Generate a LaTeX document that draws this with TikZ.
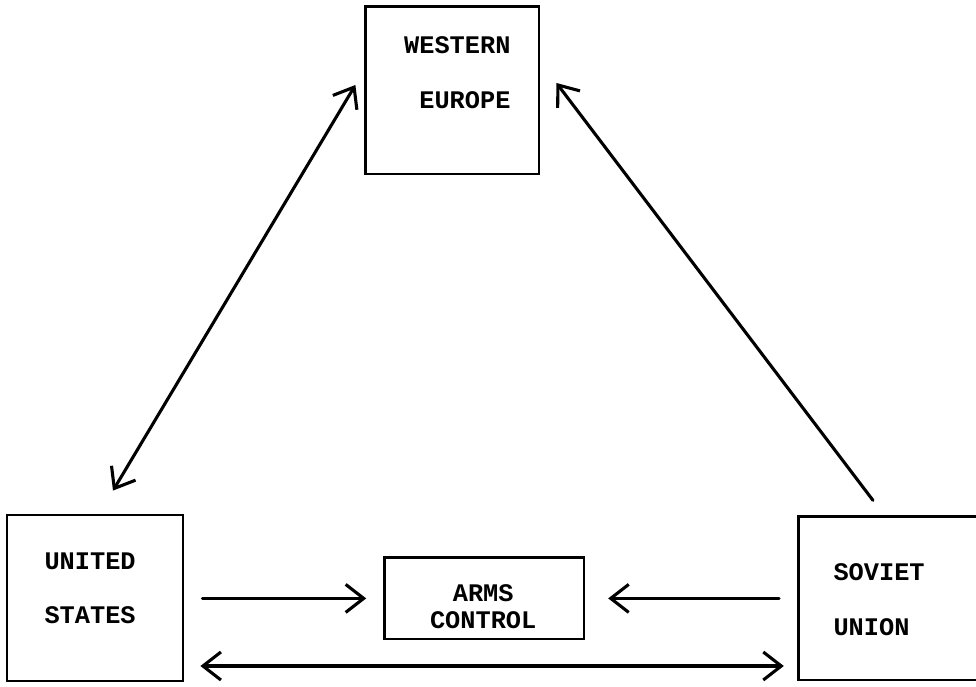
\documentclass[tikz,border=0pt]{standalone}
\usepackage{fontspec}
\setmonofont{Liberation Mono}
\usetikzlibrary{arrows.meta,positioning}
\tikzset{
  box/.style={draw, line width=2pt, inner sep=0pt},
  lbl/.style={font=\ttfamily\bfseries\fontsize{18}{20}\selectfont, inner sep=0pt},
  >={Straight Barb[length=4.5mm,width=7mm]}
}
\begin{document}
\begin{tikzpicture}[line width=2.2pt, line cap=round]
			% Draw the frame
			\useasboundingbox (0,0) rectangle (24.4,17.15);
			% Draw the boxes
			\node[box, minimum width=4.33cm, minimum height=4.18cm] (we) at (11.31,14.89) {};
			\node[box, minimum width=4.4cm, minimum height=4.15cm] (us) at (2.375,2.2) {};
			\node[box, minimum width=4.98cm, minimum height=2.03cm] (arms) at (12.11,2.19) {};
			\node[box, minimum width=5.5cm, minimum height=4.08cm, anchor=west] (su) at (19.925,2.19) {};
			% Write the names
			\node[lbl, align=right, anchor=east] (wetxt) at (12.8,15.33) {WESTERN\\[19pt]EUROPE};
			\node[lbl, align=left, anchor=west] (ustxt) at (1.075,2.44) {UNITED\\[18pt]STATES};
			\node[lbl, align=center] (armstxt) at (12.08,1.99) {ARMS\\[-1pt]CONTROL};
			\node[lbl, align=left, anchor=west] (sutxt) at (20.8,2.16) {SOVIET\\[19pt]UNION};
			% Draw the arrows
			\coordinate (base) at (0,0.5);
			\draw[<->] ([shift={(0.45,0.575)}]us.north) -- ([shift={(-0.225,0.135)}]we.west);
			\draw[->] ([shift={(1.9,0.375)}]su.north west) -- ([shift={(0.4,0.185)}]we.east);
			\draw[->, shorten <=0.45cm, shorten >=0.43cm] (us.east |- arms.west) -- (arms.west);
			\draw[->, shorten <=0.45cm, shorten >=0.57cm] (su.west |- arms.east) -- (arms.east);
			\draw[<->, shorten <=0.4cm, shorten >=0.33cm] (us.east |- base) -- (su.west |- base);
		\end{tikzpicture}
\end{document}
